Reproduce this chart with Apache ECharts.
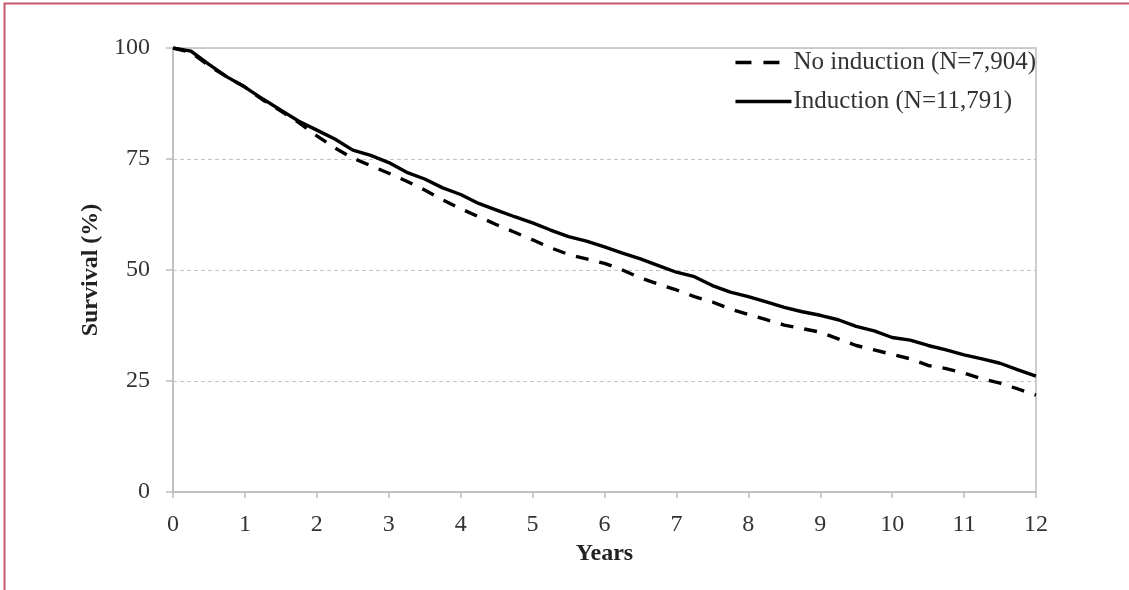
<!DOCTYPE html>
<html>
<head>
<meta charset="utf-8">
<script src="https://cdn.jsdelivr.net/npm/echarts@6/dist/echarts.min.js"></script>
<style>html,body{margin:0;padding:0;background:#fff}#c{width:1129px;height:590px}</style>
</head>
<body>
<div id="c"></div>
<script>
const years = [0,0.25,0.5,0.75,1,1.25,1.5,1.75,2,2.25,2.5,2.75,3,3.25,3.5,3.75,4,4.25,4.5,4.75,5,5.25,5.5,5.75,6,6.25,6.5,6.75,7,7.25,7.5,7.75,8,8.25,8.5,8.75,9,9.25,9.5,9.75,10,10.25,10.5,10.75,11,11.25,11.5,11.75,12];
const induction = [100,99.3,96.3,93.5,91.2,88.5,86,83.5,81.5,79.5,77,75.8,74.2,72,70.5,68.5,67,65,63.5,62,60.6,59,57.5,56.5,55.2,53.8,52.5,51,49.5,48.5,46.5,45,44,42.8,41.6,40.6,39.8,38.8,37.3,36.3,34.8,34.2,33,32,30.9,30,29,27.5,26.1];
const noInduction = [100,99,96,93.5,91.2,88.3,85.8,83.2,80.2,77.5,75.2,73.5,71.8,70,68,65.8,63.8,62,60.2,58.5,56.8,55,53.5,52.5,51.5,50,48.2,46.8,45.5,44,42.8,41.2,40,38.8,37.6,36.8,36,34.5,33,32,31,30,28.5,27.8,26.8,25.5,24.5,23.2,21.8];
const seriesNames = ['No induction (N=7,904)', 'Induction (N=11,791)'];
const xTicks = [0,1,2,3,4,5,6,7,8,9,10,11,12];
const yTicks = [0,25,50,75,100];

const font = 'Liberation Serif';
const chart = echarts.init(document.getElementById('c'));
chart.setOption({
  animation: false,
  backgroundColor: '#fff',
  graphic: [{
    type: 'rect', left: 2, top: 1, shape: {x: 0, y: 0, width: 1200, height: 700},
    style: {fill: 'none', stroke: '#c8566a', lineWidth: 2}, z: 100, silent: true
  }],
  grid: {left: 173, right: 93, top: 48, bottom: 98, show: true, borderColor: '#bdbdbd', borderWidth: 1.5},
  legend: {
    orient: 'vertical', right: 88, top: 45, itemGap: 14, itemWidth: 56, itemHeight: 14,
    itemStyle: {opacity: 0, color: 'transparent', borderWidth: 0},
    textStyle: {fontFamily: font, fontSize: 25, color: '#333', padding: [0, 0, 0, -3]},
    data: [
      {name: seriesNames[0], lineStyle: {type: [16, 12], width: 3.5}},
      {name: seriesNames[1], lineStyle: {width: 3.5}}
    ]
  },
  xAxis: {
    type: 'value', min: 0, max: 12, interval: 1,
    name: 'Years', nameLocation: 'middle', nameGap: 49,
    nameTextStyle: {fontFamily: font, fontSize: 24, fontWeight: 'bold', color: '#222'},
    axisLine: {lineStyle: {color: '#bdbdbd', width: 1.5}},
    axisTick: {show: true, length: 6, lineStyle: {color: '#bdbdbd', width: 1.5}},
    axisLabel: {fontFamily: font, fontSize: 24, color: '#333', margin: 21,
      formatter: v => xTicks.includes(v) ? String(v) : ''},
    splitLine: {show: false}
  },
  yAxis: {
    type: 'value', min: 0, max: 100, interval: 25,
    name: 'Survival (%)', nameLocation: 'middle', nameGap: 60, nameRotate: 90,
    nameTextStyle: {fontFamily: font, fontSize: 24, fontWeight: 'bold', color: '#222'},
    axisLine: {show: true, lineStyle: {color: '#bdbdbd', width: 1.5}},
    axisTick: {show: true, length: 7, lineStyle: {color: '#bdbdbd', width: 1.5}},
    axisLabel: {fontFamily: font, fontSize: 24, color: '#333', margin: 23,
      formatter: v => yTicks.includes(v) ? String(v) : ''},
    splitLine: {show: true, lineStyle: {color: '#c4c4c4', type: [4, 3], width: 1.2}}
  },
  series: [
    {
      name: seriesNames[0], type: 'line', showSymbol: false, symbol: 'none',
      data: years.map((y, i) => [y, noInduction[i]]),
      lineStyle: {color: '#000', width: 3.4, type: [13, 11]},
      itemStyle: {color: '#000'}, z: 3
    },
    {
      name: seriesNames[1], type: 'line', showSymbol: false, symbol: 'none',
      data: years.map((y, i) => [y, induction[i]]),
      lineStyle: {color: '#000', width: 3.4},
      itemStyle: {color: '#000'}, z: 4
    }
  ]
});
</script>
</body>
</html>
